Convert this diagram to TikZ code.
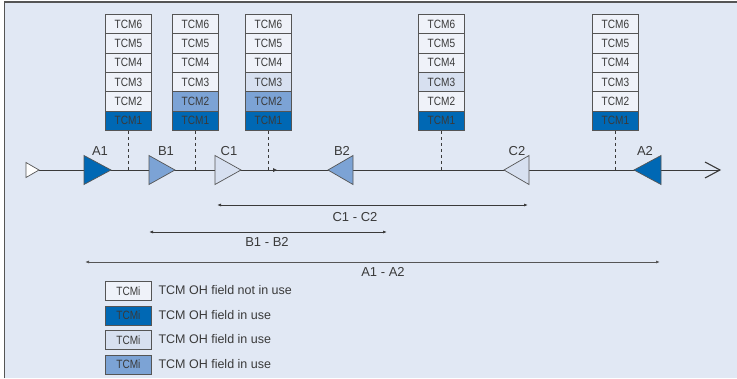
\documentclass[tikz,border=0pt]{standalone}
\usepackage{fontspec}
\setmainfont{Liberation Sans}
\newfontfamily\condfont[FakeStretch=0.84]{Liberation Sans}
\usetikzlibrary{arrows.meta}
\definecolor{bgc}{HTML}{E1E8F4}
\definecolor{frm}{HTML}{555555}
\definecolor{txt}{HTML}{3A3A3A}
\definecolor{dkb}{HTML}{0068B4}
\definecolor{mdb}{HTML}{7CA3D5}
\definecolor{ltb}{HTML}{D7E0F0}
\definecolor{wht}{HTML}{EFF2F9}
\begin{document}
\begin{tikzpicture}[x=1pt,y=-1pt,
  tcm/.style={draw=frm,line width=0.8pt,minimum width=46pt,minimum height=19.33pt,inner sep=0pt,
    font=\condfont\fontsize{12}{12}\selectfont,text=txt,anchor=north west},
  lbl/.style={font=\fontsize{13}{13}\selectfont,text=txt},
  tri/.style={draw=frm,line width=0.7pt},
  dropline/.style={draw=txt,line width=0.7pt,dash pattern=on 3.5pt off 2.5pt},
  span/.style={draw=txt,line width=0.9pt,{Latex[length=4pt,width=3pt]}-{Latex[length=4pt,width=3pt]}},
  legtxt/.style={font=\fontsize{12.5}{12.5}\selectfont,text=txt,anchor=west}]
\useasboundingbox (0,0) rectangle (737,378);
\fill[white] (0,0) rectangle (737,378);
\fill[bgc] (4.5,2) rectangle (737,378);
\draw[frm,line width=1.2pt] (4.5,378) -- (4.5,2) -- (737,2);

% stacks
\foreach \sx/\nm/\ca/\cb in {105/s1/wht/wht,172/s2/mdb/wht,245/s3/mdb/ltb,418/s4/wht/ltb,592/s5/wht/wht}{
  \node[tcm,fill=wht] (\nm-6) at (\sx,14) {TCM6};
  \node[tcm,fill=wht] (\nm-5) at (\sx,33.33) {TCM5};
  \node[tcm,fill=wht] (\nm-4) at (\sx,52.67) {TCM4};
  \node[tcm,fill=\cb] (\nm-3) at (\sx,72) {TCM3};
  \node[tcm,fill=\ca] (\nm-2) at (\sx,91.33) {TCM2};
  \node[tcm,fill=dkb] (\nm-1) at (\sx,110.67) {TCM1};
}

% main line coordinates
\coordinate (st) at (39,170);
\coordinate (en) at (720,170);
\draw[txt,line width=0.9pt] (st) -- (en);
\coordinate (mk) at (277,170);
\fill[txt] (mk) -- ++(-4,-2) -- ++(0,4) -- cycle;

% dashed drops
\foreach \nm in {s1,s2,s3,s4,s5}{
  \coordinate (\nm-d) at (\nm-1.south |- st);
  \draw[dropline] (\nm-1.south) -- (\nm-d);
}

% start triangle and end arrow
\draw[tri,fill=white] (26,162.5) -- (st) -- (26,177.5) -- cycle;
\draw[txt,line width=1.1pt] (705,162) -- (en) -- (705,178);

% right pointing triangles
\draw[tri,fill=dkb] (84,155.5) -- (111,170) -- (84,184.5) -- cycle;
\draw[tri,fill=mdb] (149,155.5) -- (175,170) -- (149,184.5) -- cycle;
\draw[tri,fill=ltb] (215,155.5) -- (241,170) -- (215,184.5) -- cycle;
% left pointing triangles
\draw[tri,fill=mdb] (353,155.5) -- (328,170) -- (353,184.5) -- cycle;
\draw[tri,fill=ltb] (529,155.5) -- (504,170) -- (529,184.5) -- cycle;
\draw[tri,fill=dkb] (661,155.5) -- (634,170) -- (661,184.5) -- cycle;

\node[lbl] (lA1) at (100,151) {A1};
\node[lbl] (lB1) at (166,151) {B1};
\node[lbl] (lC1) at (229,151) {C1};
\node[lbl] (lB2) at (342,151) {B2};
\node[lbl] (lC2) at (517,151) {C2};
\node[lbl] (lA2) at (645,151) {A2};

% spans
\coordinate (c1s) at (217,205); \coordinate (c2s) at (528,205);
\draw[span] (c1s) -- (c2s);
\node[lbl] (lcc) at (355,217) {C1 - C2};
\coordinate (b1s) at (149,232); \coordinate (b2s) at (387,232);
\draw[span] (b1s) -- (b2s);
\node[lbl] (lbb) at (267,242) {B1 - B2};
\coordinate (a1s) at (85,262); \coordinate (a2s) at (660,262);
\draw[span,draw=frm] (a1s) -- (a2s);
\node[lbl] (laa) at (383,272) {A1 - A2};

% legend
\node[tcm,fill=wht] (k1) at (105,281) {TCMi};
\node[tcm,fill=dkb] (k2) at (105,305.5) {TCMi};
\node[tcm,fill=ltb] (k3) at (105,330) {TCMi};
\node[tcm,fill=mdb] (k4) at (105,354.5) {TCMi};
\node[legtxt] (t1) at (155,290.5) {TCM OH field not in use};
\node[legtxt] (t2) at (155,315) {TCM OH field in use};
\node[legtxt] (t3) at (155,339.5) {TCM OH field in use};
\node[legtxt] (t4) at (155,364) {TCM OH field in use};
\end{tikzpicture}
\end{document}
